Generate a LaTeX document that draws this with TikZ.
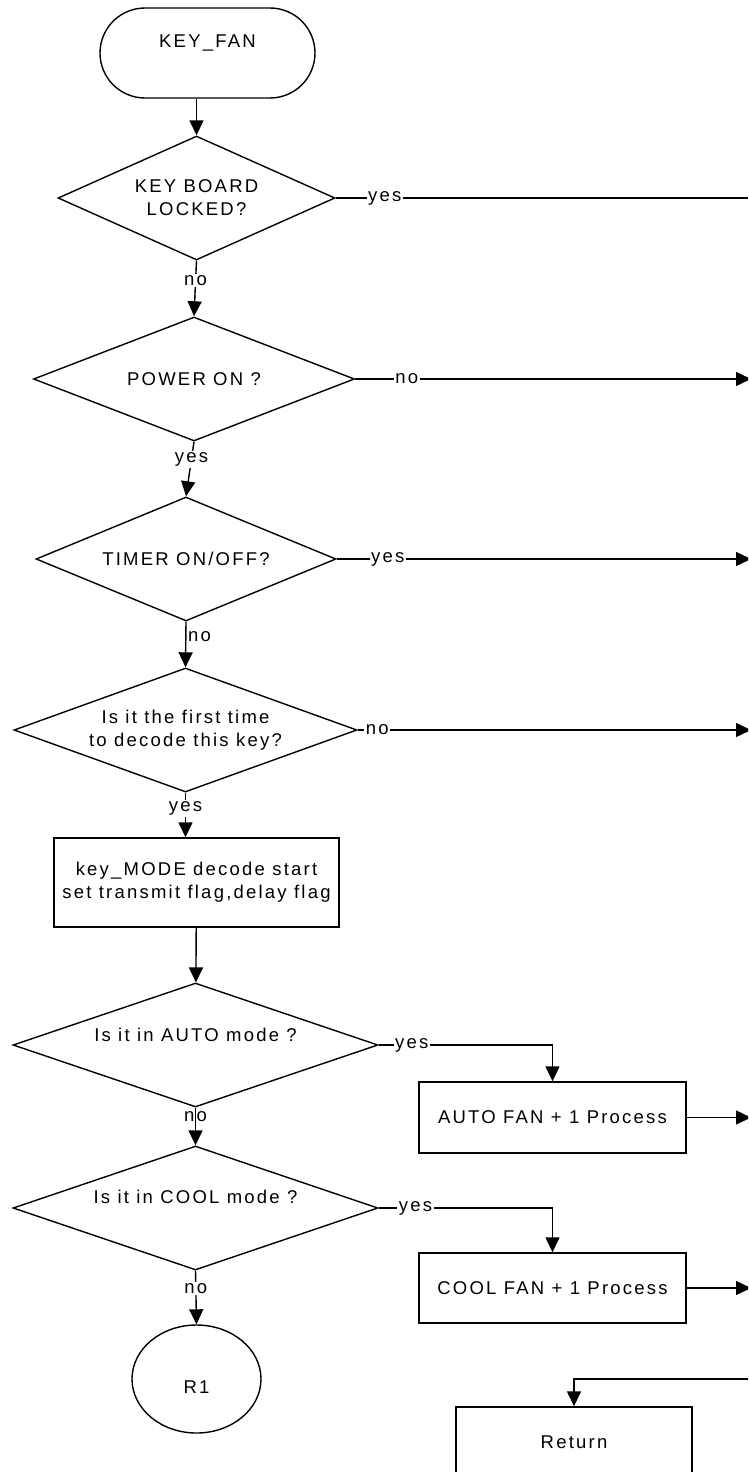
\documentclass[tikz,border=0pt]{standalone}
\usepackage{fontspec}
\setmainfont{Liberation Sans}[LetterSpace=12]
\usetikzlibrary{shapes.geometric,arrows.meta}
\tikzset{
  dec/.style={draw, shape=diamond, inner sep=0pt, shape aspect=2.7, align=center},
  proc/.style={draw, rectangle, inner sep=0pt, align=center},
  term/.style={draw, rectangle, rounded corners=45pt, inner sep=0pt, minimum width=215pt, minimum height=90pt},
  conn/.style={draw, ellipse, inner sep=0pt, minimum width=129pt, minimum height=108pt},
  arr/.style={-{Triangle[length=15pt,width=14pt]}},
  lbl/.style={fill=white, inner sep=1.5pt},
  lbln/.style={inner sep=1.5pt}
}
\begin{document}
\begin{tikzpicture}[x=1pt,y=-1pt,line width=1.4pt,font=\fontsize{18.5}{23}\selectfont]
\useasboundingbox (0,0) rectangle (748,1472);
\clip (0,0) rectangle (748,1472);

\node[term] (start) at (207.5,53) {\raisebox{10pt}[\height][\depth]{KEY\_FAN}};
\node[dec, minimum width=277pt, minimum height=124pt] (d1) at (196.5,198) {KEY BOARD\\LOCKED?};
\node[dec, minimum width=321pt, minimum height=124pt] (d2) at (194,379) {POWER ON ?};
\node[dec, minimum width=300pt, minimum height=124pt] (d3) at (186,559) {TIMER ON/OFF?};
\node[dec, minimum width=343pt, minimum height=124pt] (d4) at (185.5,730) {Is it the first time\\to decode this key?};
\node[proc, minimum width=285pt, minimum height=89pt] (b1) at (196.5,882.5) {key\_MODE decode start\\set transmit flag,delay flag};
\node[dec, minimum width=365pt, minimum height=124pt] (d5) at (195.5,1045) {\raisebox{10pt}[\height][\depth]{Is it in AUTO mode ?}};
\node[dec, minimum width=365pt, minimum height=124pt] (d6) at (195.5,1208) {\raisebox{11pt}[\height][\depth]{Is it in COOL mode ?}};
\node[conn] (r1) at (196.5,1379) {\raisebox{-8pt}[\height][\depth]{R1}};
\node[proc, minimum width=267pt, minimum height=71pt] (auto) at (552.5,1117.5) {AUTO FAN + 1 Process};
\node[proc, minimum width=267pt, minimum height=70pt] (cool) at (552.5,1288) {COOL FAN + 1 Process};
\node[proc, minimum width=236pt, minimum height=70pt] (ret) at (574,1442) {Return};

\coordinate (e1) at (748,198);
\coordinate (e2) at (751,379);
\coordinate (e3) at (751,559);
\coordinate (e4) at (751,730);
\coordinate (e5) at (751,1117.5);
\coordinate (e6) at (751,1288);
\coordinate (e7) at (750,1379);

\draw[arr] (start.south -| d1.north) -- (d1.north);
\draw (d1.east) -- node[lbl, pos=0.119] {yes} (e1);
\draw[arr] (d1.south) -- node[lbl, pos=0.35] {no} (d2.north);
\draw[arr] (d2.east) -- node[lbl, pos=0.13] {no} (e2);
\draw[arr] (d2.south) -- node[lbl, pos=0.32] {yes} (d3.north);
\draw[arr] (d3.east) -- node[lbl, pos=0.123] {yes} (e3);
\draw[arr] (d3.south) -- node[lbln, right, pos=0.32] {no} (d4.north);
\draw[arr] (d4.east) -- node[lbl, pos=0.05] {no} (e4);
\draw[arr] (d4.south) -- node[lbl, pos=0.35] {yes} (d4.south |- b1.north);
\draw[arr] (b1) -- (d5);
\draw[arr] (d5.south) -- node[lbln, pos=0.23] {no} (d6.north);
\draw[arr] (d5.east) -| node[lbl, pos=0.095] {yes} (auto.north);
\draw[arr] (d6.east) -| node[lbl, pos=0.106] {yes} (cool.north);
\draw[arr] (d6.south) -- node[lbl, pos=0.33] {no} (r1.north);
\draw[arr] (auto.east) -- (e5);
\draw[arr] (cool.east) -- (e6);
\draw[arr] (e7) -| (ret.north);
\end{tikzpicture}
\end{document}
